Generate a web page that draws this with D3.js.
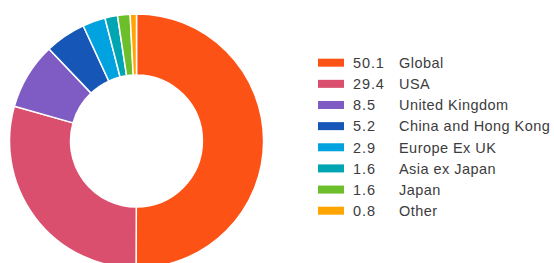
<!DOCTYPE html>
<html>
<head>
<meta charset="utf-8">
<script src="https://cdn.jsdelivr.net/npm/d3@7"></script>
<style>
  body { margin: 0; background: #fff; }
  text { font-family: "Liberation Sans", Arial, sans-serif; }
</style>
</head>
<body>
<div id="chart"></div>
<script>
// chart data
const regions = ["Global", "USA", "United Kingdom", "China and Hong Kong", "Europe Ex UK", "Asia ex Japan", "Japan", "Other"];
const weights = [50.1, 29.4, 8.5, 5.2, 2.9, 1.6, 1.6, 0.8];
const colours = ["#fc5216", "#da4f6e", "#7e5cc3", "#1656b7", "#00a2df", "#00a5b4", "#6cbe2b", "#ffa400"];

const width = 554;
const height = 263;
const cx = 136.5, cy = 141;
const outerR = 127, innerR = 66;

const svg = d3.select("#chart")
  .append("svg")
  .attr("width", width)
  .attr("height", height);

const items = regions.map((r, i) => ({ region: r, value: weights[i], colour: colours[i] }));

const pie = d3.pie()
  .value(d => d.value)
  .sort(null);

const arc = d3.arc()
  .innerRadius(innerR)
  .outerRadius(outerR);

const donut = svg.append("g")
  .attr("transform", "translate(" + cx + "," + cy + ")");

donut.selectAll("path")
  .data(pie(items))
  .enter().append("path")
  .attr("d", arc)
  .style("fill", d => d.data.colour)
  .style("stroke", "#fff")
  .style("stroke-width", 1.5);

// legend
const rowY = d3.scalePoint()
  .domain(regions)
  .range([62.7, 210.7]);

const legend = svg.append("g");

const row = legend.selectAll(".row")
  .data(items)
  .enter().append("g")
  .attr("class", "row")
  .attr("transform", d => "translate(0," + rowY(d.region) + ")");

row.append("rect")
  .attr("x", 318)
  .attr("y", -4)
  .attr("width", 26)
  .attr("height", 8)
  .style("fill", d => d.colour);

row.append("text")
  .attr("x", 353)
  .attr("dy", "0.36em")
  .style("font-size", "14.5px")
  .style("letter-spacing", "0.9px")
  .style("fill", "#3c3c3c")
  .text(d => d.value.toFixed(1));

row.append("text")
  .attr("x", 399)
  .attr("dy", "0.36em")
  .style("font-size", "14.5px")
  .style("letter-spacing", "0.45px")
  .style("fill", "#3c3c3c")
  .text(d => d.region);
</script>
</body>
</html>
